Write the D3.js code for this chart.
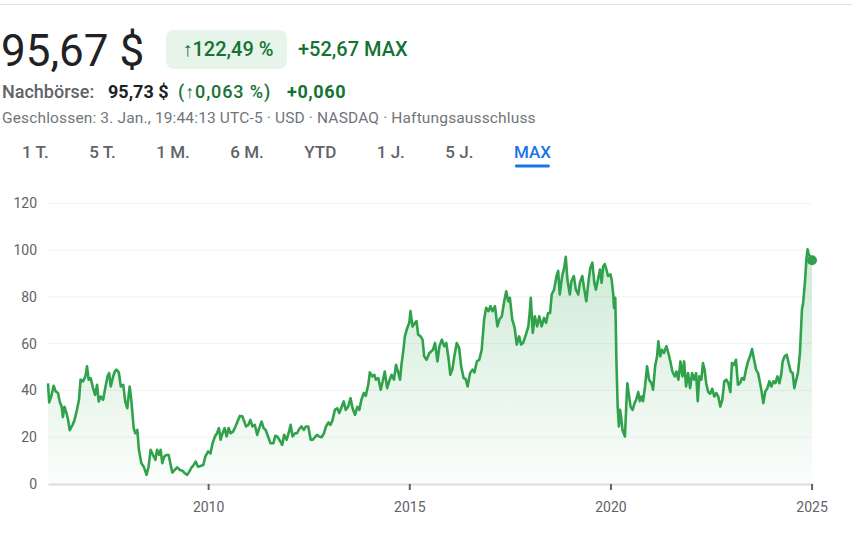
<!DOCTYPE html>
<html>
<head>
<meta charset="utf-8">
<script src="https://cdn.jsdelivr.net/npm/d3@7"></script>
<style>
  body { margin: 0; background: #fff; }
  text { font-family: Roboto, "Noto Sans", sans-serif; }
</style>
</head>
<body>
<div id="chart"></div>
<script>
// values (decimal year, closing price in $)
const years = [
  2006.02, 2006.05, 2006.10, 2006.16, 2006.21, 2006.27, 2006.31, 2006.36, 2006.39, 2006.43,
  2006.48, 2006.52, 2006.56, 2006.63, 2006.68, 2006.74, 2006.79, 2006.83, 2006.89, 2006.95,
  2006.99, 2007.03, 2007.08, 2007.14, 2007.19, 2007.24, 2007.28, 2007.33, 2007.39, 2007.45,
  2007.50, 2007.54, 2007.58, 2007.64, 2007.68, 2007.72, 2007.78, 2007.83, 2007.89, 2007.94,
  2007.99, 2008.05, 2008.09, 2008.15, 2008.19, 2008.24, 2008.28, 2008.34, 2008.40, 2008.47,
  2008.52, 2008.57, 2008.63, 2008.69, 2008.73, 2008.78, 2008.82, 2008.86, 2008.91, 2008.96,
  2009.02, 2009.06, 2009.11, 2009.17, 2009.23, 2009.30, 2009.36, 2009.42, 2009.48, 2009.53,
  2009.59, 2009.64, 2009.69, 2009.75, 2009.81, 2009.88, 2009.93, 2010.00, 2010.06, 2010.11,
  2010.17, 2010.22, 2010.27, 2010.31, 2010.36, 2010.41, 2010.46, 2010.51, 2010.56, 2010.62,
  2010.68, 2010.73, 2010.79, 2010.85, 2010.90, 2010.94, 2011.00, 2011.05, 2011.10, 2011.16,
  2011.22, 2011.27, 2011.33, 2011.38, 2011.43, 2011.49, 2011.55, 2011.62, 2011.67, 2011.72,
  2011.78, 2011.84, 2011.89, 2011.95, 2012.00, 2012.05, 2012.10, 2012.16, 2012.21, 2012.26,
  2012.32, 2012.38, 2012.43, 2012.49, 2012.55, 2012.60, 2012.65, 2012.71, 2012.76, 2012.82,
  2012.88, 2012.93, 2012.99, 2013.04, 2013.09, 2013.15, 2013.21, 2013.26, 2013.32, 2013.37,
  2013.42, 2013.48, 2013.54, 2013.59, 2013.65, 2013.71, 2013.76, 2013.81, 2013.87, 2013.92,
  2013.98, 2014.02, 2014.08, 2014.13, 2014.17, 2014.23, 2014.29, 2014.34, 2014.39, 2014.45,
  2014.50, 2014.56, 2014.62, 2014.67, 2014.73, 2014.77, 2014.81, 2014.85, 2014.89, 2014.95,
  2015.00, 2015.03, 2015.08, 2015.14, 2015.18, 2015.22, 2015.28, 2015.33, 2015.37, 2015.43,
  2015.50, 2015.59, 2015.64, 2015.70, 2015.75, 2015.81, 2015.87, 2015.92, 2015.98, 2016.02,
  2016.07, 2016.12, 2016.18, 2016.24, 2016.29, 2016.35, 2016.40, 2016.45, 2016.51, 2016.57,
  2016.62, 2016.68, 2016.74, 2016.80, 2016.86, 2016.91, 2016.97, 2017.02, 2017.07, 2017.13,
  2017.19, 2017.24, 2017.30, 2017.36, 2017.41, 2017.46, 2017.50, 2017.56, 2017.62, 2017.67,
  2017.73, 2017.78, 2017.83, 2017.90, 2017.96, 2018.00, 2018.02, 2018.07, 2018.12, 2018.18,
  2018.23, 2018.29, 2018.35, 2018.40, 2018.45, 2018.50, 2018.54, 2018.60, 2018.66, 2018.70,
  2018.74, 2018.80, 2018.85, 2018.89, 2018.93, 2018.99, 2019.03, 2019.09, 2019.14, 2019.20,
  2019.24, 2019.30, 2019.35, 2019.40, 2019.45, 2019.50, 2019.55, 2019.60, 2019.64, 2019.69,
  2019.74, 2019.78, 2019.82, 2019.86, 2019.90, 2019.94, 2020.00, 2020.03, 2020.07, 2020.09,
  2020.12, 2020.15, 2020.18, 2020.21, 2020.24, 2020.27, 2020.30, 2020.33, 2020.36, 2020.40,
  2020.42, 2020.45, 2020.50, 2020.55, 2020.60, 2020.64, 2020.69, 2020.73, 2020.77, 2020.81,
  2020.86, 2020.91, 2020.96, 2021.02, 2021.06, 2021.11, 2021.16, 2021.19, 2021.24, 2021.28,
  2021.33, 2021.39, 2021.44, 2021.49, 2021.54, 2021.60, 2021.64, 2021.69, 2021.74, 2021.79,
  2021.83, 2021.88, 2021.93, 2021.98, 2022.03, 2022.08, 2022.13, 2022.17, 2022.21, 2022.26,
  2022.30, 2022.34, 2022.38, 2022.43, 2022.48, 2022.53, 2022.58, 2022.63, 2022.68, 2022.73,
  2022.78, 2022.83, 2022.88, 2022.93, 2022.98, 2023.02, 2023.07, 2023.12, 2023.17, 2023.22,
  2023.27, 2023.32, 2023.37, 2023.42, 2023.47, 2023.52, 2023.57, 2023.62, 2023.67, 2023.72,
  2023.76, 2023.80, 2023.85, 2023.90, 2023.95, 2024.00, 2024.05, 2024.10, 2024.15, 2024.20,
  2024.25, 2024.28, 2024.33, 2024.38, 2024.43, 2024.48, 2024.53, 2024.57, 2024.61, 2024.66,
  2024.71, 2024.76, 2024.79, 2024.84, 2024.87, 2024.90, 2024.93, 2024.97, 2025.01
];
const prices = [
  43.0, 34.9, 37.4, 42.0, 39.6, 38.9, 35.3, 33.0, 28.6, 33.0,
  30.3, 27.4, 23.0, 25.3, 27.4, 31.7, 36.0, 44.6, 43.9, 46.0,
  50.3, 44.6, 45.3, 41.0, 38.1, 42.4, 35.3, 37.4, 36.0, 41.7,
  46.0, 47.4, 41.7, 46.0, 48.1, 48.9, 47.7, 41.7, 42.4, 35.3,
  32.4, 41.7, 36.0, 23.9, 21.7, 23.1, 14.6, 8.9, 7.4, 3.9,
  7.4, 14.6, 12.4, 10.3, 14.6, 12.5, 14.6, 8.9, 11.7, 12.4,
  12.4, 8.9, 4.9, 6.0, 7.1, 6.0, 5.7, 4.6, 3.9, 5.3,
  7.1, 8.1, 9.6, 7.4, 7.7, 8.1, 11.7, 13.9, 13.1, 17.4,
  20.3, 21.7, 23.9, 18.9, 21.7, 23.9, 20.3, 23.9, 21.7, 22.4,
  24.6, 26.7, 29.1, 28.9, 26.7, 24.6, 25.3, 27.4, 24.6, 25.3,
  21.0, 23.9, 26.7, 23.9, 23.1, 20.3, 17.4, 17.4, 20.6, 20.3,
  18.6, 16.7, 21.0, 18.9, 21.7, 25.3, 20.3, 21.7, 21.7, 23.4,
  24.6, 23.1, 24.6, 24.6, 18.9, 18.9, 20.0, 21.0, 20.3, 20.0,
  21.7, 24.6, 26.3, 25.3, 27.1, 31.7, 32.4, 30.3, 33.0, 35.3,
  31.7, 33.0, 36.7, 32.4, 29.6, 33.0, 31.7, 36.0, 38.9, 37.7,
  42.4, 47.7, 46.0, 46.7, 44.6, 45.3, 40.3, 43.9, 48.1, 41.0,
  43.9, 46.7, 44.6, 51.0, 47.4, 44.6, 51.7, 56.7, 63.1, 66.7,
  68.9, 73.9, 67.3, 68.9, 69.6, 63.9, 63.1, 61.7, 54.6, 53.1,
  56.0, 57.4, 60.3, 52.4, 58.9, 61.7, 58.9, 60.3, 53.1, 46.7,
  48.9, 54.6, 60.3, 58.1, 50.3, 45.3, 44.9, 41.7, 47.4, 48.9,
  47.7, 52.4, 53.1, 57.4, 70.3, 75.3, 73.9, 76.0, 73.9, 76.0,
  67.4, 70.3, 71.7, 78.1, 82.4, 78.1, 79.6, 70.3, 66.7, 59.6,
  63.1, 59.6, 60.3, 63.9, 67.4, 74.6, 79.6, 64.6, 71.7, 67.4,
  71.7, 67.4, 71.0, 68.9, 73.1, 73.1, 81.0, 83.1, 88.9, 91.1,
  81.0, 88.9, 92.4, 97.1, 87.4, 81.0, 86.7, 88.9, 83.1, 81.0,
  86.0, 88.9, 83.1, 78.1, 86.0, 92.4, 94.6, 86.0, 83.1, 87.4,
  91.7, 86.0, 93.1, 94.0, 91.7, 88.9, 89.6, 87.4, 81.0, 75.3,
  79.6, 51.7, 33.1, 24.6, 31.7, 28.1, 23.1, 21.7, 20.3, 36.0,
  43.1, 39.3, 33.1, 31.7, 34.6, 36.0, 39.3, 35.4, 37.4, 35.4,
  41.7, 50.3, 44.6, 43.1, 40.3, 50.3, 54.6, 61.0, 54.6, 57.4,
  56.0, 58.9, 56.0, 52.4, 48.1, 46.0, 48.1, 44.6, 52.4, 46.0,
  52.4, 41.7, 47.4, 41.0, 47.4, 44.6, 47.4, 35.4, 46.0, 44.6,
  51.7, 48.9, 43.1, 39.3, 38.6, 40.7, 37.4, 38.9, 37.4, 33.1,
  36.0, 43.9, 44.6, 43.1, 39.3, 51.7, 50.9, 53.1, 42.4, 43.1,
  45.3, 44.6, 48.9, 52.4, 54.6, 57.7, 53.1, 48.9, 47.4, 43.1,
  39.3, 34.6, 39.6, 40.9, 43.9, 41.7, 43.9, 43.1, 46.0, 43.1,
  47.4, 52.4, 54.6, 55.3, 51.7, 48.1, 47.4, 41.0, 43.9, 47.4,
  56.0, 74.6, 77.4, 87.4, 96.0, 100.3, 98.1, 97.1, 95.67
];
const yTicks = [0, 20, 40, 60, 80, 100, 120];
const xTicks = [2010, 2015, 2020, 2025];
const ranges = ["1 T.", "5 T.", "1 M.", "6 M.", "YTD", "1 J.", "5 J.", "MAX"];
const activeRange = "MAX";

const W = 852, H = 537;
const green = "#34a853", darkGreen = "#137333";

const svg = d3.select("#chart").append("svg")
  .attr("width", W).attr("height", H);

svg.append("rect").attr("width", W).attr("height", H).attr("fill", "#fff");
svg.append("line").attr("x1", 0).attr("x2", W).attr("y1", 4.5).attr("y2", 4.5)
  .attr("stroke", "#e3e3e3").attr("stroke-width", 1);

// ---- header
svg.append("text").attr("x", 1).attr("y", 66)
  .style("font-size", "44px").attr("fill", "#202124").text("95,67 $");

svg.append("rect").attr("x", 166).attr("y", 30).attr("width", 121).attr("height", 39)
  .attr("rx", 8).attr("fill", "#e6f4ea");
svg.append("text").attr("x", 228).attr("y", 56).attr("text-anchor", "middle")
  .style("font-size", "20px").style("font-weight", 500).attr("fill", darkGreen)
  .text("↑122,49 %");
svg.append("text").attr("x", 298).attr("y", 56)
  .style("font-size", "20px").style("font-weight", 500).attr("fill", darkGreen)
  .text("+52,67 MAX");

let row2 = svg.append("text").attr("y", 98).style("font-size", "18px").style("font-weight", 500);
row2.append("tspan").attr("x", 2).attr("fill", "#5f6368").text("Nachbörse:");
row2.append("tspan").attr("x", 108).attr("fill", "#202124").style("font-weight", 700).text("95,73 $");
row2.append("tspan").attr("x", 178).attr("fill", darkGreen).style("letter-spacing", "0.9px").text("(↑0,063 %)");
row2.append("tspan").attr("x", 287).attr("fill", darkGreen).style("font-weight", 700)
  .style("letter-spacing", "0.6px").text("+0,060");

svg.append("text").attr("x", 2).attr("y", 123)
  .style("font-size", "15.5px").style("letter-spacing", "0.15px").attr("fill", "#70757a")
  .text("Geschlossen: 3. Jan., 19:44:13 UTC-5 · USD · NASDAQ · Haftungsausschluss");

// range tabs: equal gap between labels, like a row of padded buttons
const tabs = svg.append("g").selectAll("text").data(ranges).enter().append("text")
  .attr("y", 158)
  .style("font-size", "17px").style("font-weight", 500)
  .attr("fill", d => d === activeRange ? "#1a73e8" : "#5f6368")
  .text(d => d);
let tabPos = 22;
tabs.each(function(d) {
  d3.select(this).attr("x", tabPos);
  let w = this.getComputedTextLength();
  if (d === activeRange) {
    svg.append("rect").attr("x", tabPos + 1).attr("y", 164.5)
      .attr("width", w - 2).attr("height", 3).attr("rx", 1.5).attr("fill", "#1a73e8");
  }
  tabPos += w + 40.5;
});

// ---- chart
const x = d3.scaleLinear().domain([years[0], years[years.length - 1]]).range([48, 812]);
const y = d3.scaleLinear().domain([0, 120]).range([484, 203.3]);
const data = years.map((t, i) => ({ t: t, v: prices[i] }));

const grid = svg.append("g").attr("class", "grid");
grid.selectAll("line").data(yTicks.filter(d => d > 0)).enter().append("line")
  .attr("x1", 48).attr("x2", 812)
  .attr("y1", d => y(d)).attr("y2", d => y(d))
  .attr("stroke", "#f1f3f4").attr("stroke-width", 1);

const yAxis = svg.append("g").attr("transform", "translate(48,0)")
  .call(d3.axisLeft(y).tickValues(yTicks).tickSize(0).tickPadding(11));
yAxis.select(".domain").remove();
yAxis.selectAll("text").style("font-size", "14px").attr("fill", "#5f6368")
  .style("font-family", "Roboto, sans-serif");

const defs = svg.append("defs");
const grad = defs.append("linearGradient").attr("id", "fillGrad")
  .attr("gradientUnits", "userSpaceOnUse")
  .attr("x1", 0).attr("x2", 0).attr("y1", y(100)).attr("y2", y(0));
grad.append("stop").attr("offset", 0).attr("stop-color", green).attr("stop-opacity", 0.24);
grad.append("stop").attr("offset", 1).attr("stop-color", green).attr("stop-opacity", 0.02);

svg.append("path").datum(data)
  .attr("fill", "url(#fillGrad)")
  .attr("d", d3.area().x(d => x(d.t)).y0(y(0)).y1(d => y(d.v)));

const xAxis = svg.append("g").attr("transform", "translate(0," + y(0) + ")")
  .call(d3.axisBottom(x).tickValues(xTicks).tickFormat(d3.format("d"))
    .tickSize(6).tickSizeOuter(0).tickPadding(12));
xAxis.select(".domain").attr("stroke", "#dadce0").attr("stroke-width", 2);
xAxis.selectAll(".tick line").attr("stroke", "#5f6368").attr("stroke-width", 2);
xAxis.selectAll("text").style("font-size", "14px").attr("fill", "#5f6368")
  .style("font-family", "Roboto, sans-serif");

svg.append("path").datum(data)
  .attr("fill", "none").attr("stroke", "#31a24c").attr("stroke-width", 2.6)
  .attr("stroke-linejoin", "round")
  .attr("d", d3.line().x(d => x(d.t)).y(d => y(d.v)));

const last = data[data.length - 1];
svg.append("circle").attr("cx", x(last.t)).attr("cy", y(last.v)).attr("r", 5)
  .attr("fill", "#31a24c");
</script>
</body>
</html>
